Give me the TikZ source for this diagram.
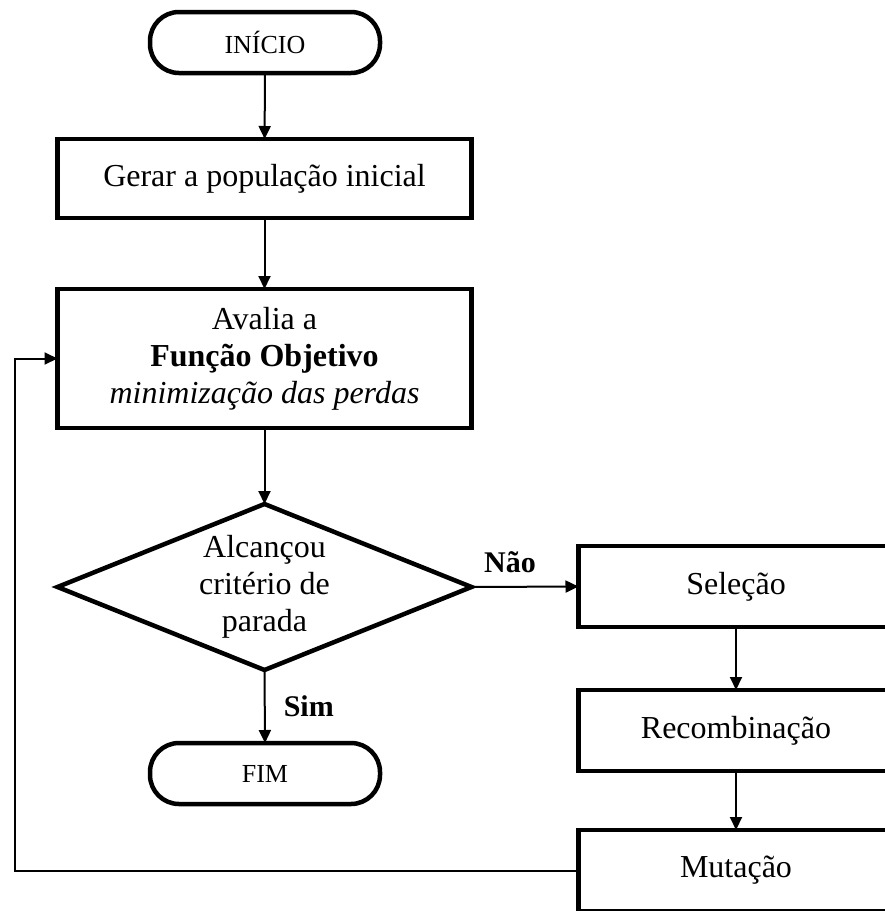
\documentclass[tikz,border=0pt]{standalone}
\usepackage{fontspec}
\setmainfont{Liberation Serif}
\usetikzlibrary{shapes.geometric, arrows.meta}
\begin{document}
\begin{tikzpicture}[x=1pt, y=-1pt,
  every node/.style={inner sep=0pt, outer sep=0pt},
  maintext/.style={font=\fontsize{32}{37}\selectfont},
  terminal/.style={draw, line width=4.5pt, rounded corners=29pt,
    minimum width=230pt, minimum height=61pt,
    font=\fontsize{26}{30}\selectfont},
  process/.style={draw, line width=4.5pt, minimum width=414pt, maintext},
  sidebox/.style={draw, line width=4.5pt, minimum width=315pt,
    minimum height=81pt, maintext},
  decision/.style={draw, diamond, line width=4.5pt,
    minimum width=414pt, minimum height=166pt},
  flow/.style={line width=2pt, -{Triangle[length=13pt, width=12pt]}},
  answer/.style={font=\fontsize{30}{34}\selectfont\bfseries}]

  \useasboundingbox (0,0) rectangle (885,911);
  \fill[white] (0,0) rectangle (885,911);
  \clip (0,0) rectangle (885,911);

  % main column
  \node[terminal] (start) at (265,42.5) {INÍCIO};
  \node[process, minimum height=79pt] (gen) at (264.5,178.5)
    {Gerar a população inicial};
  \node[process, minimum height=139pt, align=center] (eval) at (264.5,358.5)
    {Avalia a\\\textbf{Função Objetivo}\\\textit{minimização das perdas}};
  \node[decision] (dec) at (264.5,587) {};
  \node[maintext, align=center] (dectext) at (dec.center)
    {Alcançou\\critério de\\parada};
  \node[terminal] (stop) at (265,773.5) {FIM};

  % genetic operators
  \node[sidebox] (sel) at (736,586.5) {Seleção};
  \node[sidebox] (rec) at (736,730.5) {Recombinação};
  \node[sidebox] (mut) at (736,870.5) {Mutação};

  % connectors
  \draw[flow] (start) -- (gen);
  \draw[flow] (gen) -- (eval);
  \draw[flow] (eval) -- (dec);
  \draw[flow] (dec.east) -- node[answer, pos=0.36, above=14pt] {Não} (sel.west);
  \draw[flow] (dec.south) -- node[answer, pos=0.5, anchor=west, xshift=19pt] {Sim} (stop.north);
  \draw[flow] (sel) -- (rec);
  \draw[flow] (rec) -- (mut);
  \coordinate (loop) at (15,870.5);
  \draw[flow] (mut.west) -- (loop) |- (eval.west);
\end{tikzpicture}
\end{document}
